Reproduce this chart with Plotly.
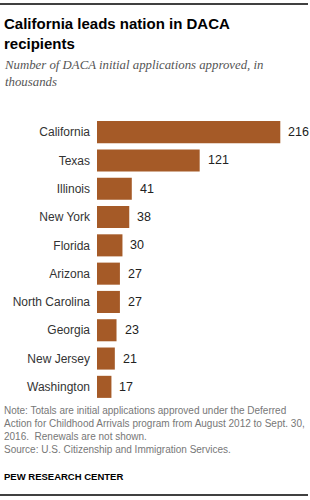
import plotly.graph_objects as go

states = ["California", "Texas", "Illinois", "New York", "Florida",
          "Arizona", "North Carolina", "Georgia", "New Jersey", "Washington"]
approved = [216, 121, 41, 38, 30, 27, 27, 23, 21, 17]

W, H = 310, 500
ML, MR, MT, MB = 97, 0, 118, 99
PW = W - ML - MR
PH = H - MT - MB

def px(x):
    return (x - ML) / PW

def py(y):
    return (H - MB - y) / PH

BAR = "#A55A27"
SANS = "Liberation Sans, Arial, sans-serif"

fig = go.Figure()
fig.add_trace(go.Bar(
    x=approved, y=states, orientation="h",
    marker=dict(color=BAR, line=dict(width=0)),
    width=0.78, hoverinfo="skip",
))

annotations = []
for s, v in zip(states, approved):
    annotations.append(dict(x=v, y=s, xref="x", yref="y", text=str(v),
                            showarrow=False, xanchor="left", xshift=6,
                            font=dict(family=SANS, size=12.5, color="#222")))

annotations += [
    dict(x=px(2), y=py(13), xref="paper", yref="paper", xanchor="left", yanchor="top",
         align="left", showarrow=False,
         text="<b>California leads nation in DACA<br>recipients</b>",
         font=dict(family=SANS, size=15, color="#000")),
    dict(x=px(2), y=py(56), xref="paper", yref="paper", xanchor="left", yanchor="top",
         align="left", showarrow=False,
         text="<i>Number of DACA initial applications approved, in<br>thousands</i>",
         font=dict(family="Liberation Serif, Georgia, serif", size=12.8, color="#555")),
    dict(x=px(2), y=py(403), xref="paper", yref="paper", xanchor="left", yanchor="top",
         align="left", showarrow=False,
         text=("Note: Totals are initial applications approved under the Deferred<br>"
               "Action for Childhood Arrivals program from August 2012 to Sept. 30,<br>"
               "2016.  Renewals are not shown.<br>"
               "Source: U.S. Citizenship and Immigration Services."),
         font=dict(family=SANS, size=10, color="#777")),
    dict(x=px(2), y=py(469), xref="paper", yref="paper", xanchor="left", yanchor="top",
         align="left", showarrow=False,
         text="<b>PEW RESEARCH CENTER</b>",
         font=dict(family=SANS, size=9.5, color="#000")),
]

shapes = [
    dict(type="line", xref="paper", yref="paper", x0=px(0), x1=px(308), y0=py(4), y1=py(4),
         line=dict(color="#000", width=1.5)),
    dict(type="line", xref="paper", yref="paper", x0=px(0), x1=px(308), y0=py(495), y1=py(495),
         line=dict(color="#000", width=1.5)),
]

fig.update_layout(
    width=W, height=H, margin=dict(l=ML, r=MR, t=MT, b=MB),
    paper_bgcolor="white", plot_bgcolor="white",
    showlegend=False, annotations=annotations, shapes=shapes,
    xaxis=dict(range=[0, 251], visible=False, fixedrange=True),
    yaxis=dict(autorange="reversed", showgrid=False, zeroline=False, showline=False,
               ticks="", ticklabelstandoff=6,
               tickfont=dict(family=SANS, size=12, color="#333"), fixedrange=True),
    bargap=0.22,
)

fig.write_html("out.html", config={"displayModeBar": False})
